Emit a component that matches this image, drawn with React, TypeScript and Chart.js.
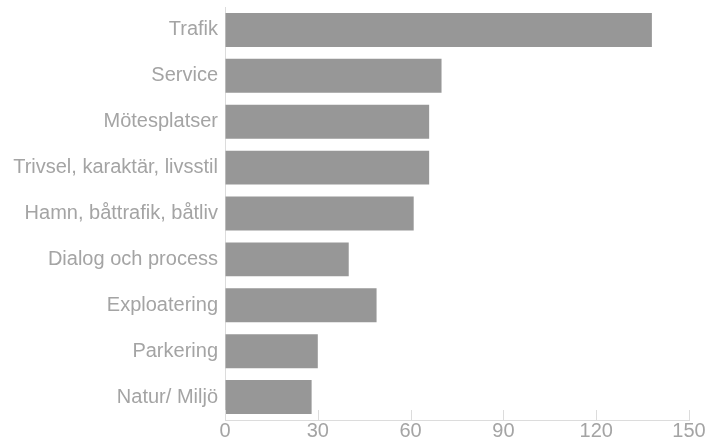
import React, { useEffect, useRef } from "react";
import { Chart, registerables } from "chart.js";

Chart.register(...registerables);

const categories = [
  "Trafik",
  "Service",
  "Mötesplatser",
  "Trivsel, karaktär, livsstil",
  "Hamn, båttrafik, båtliv",
  "Dialog och process",
  "Exploatering",
  "Parkering",
  "Natur/ Miljö",
];
const values = [138, 70, 66, 66, 61, 40, 49, 30, 28];
const xTicks = [0, 30, 60, 90, 120, 150];

const innerTicks = {
  id: "innerTicks",
  afterDraw(chart: any) {
    const x = chart.scales.x;
    const ctx = chart.ctx;
    const bottom = chart.chartArea.bottom;
    ctx.save();
    ctx.strokeStyle = "#dcdcdc";
    ctx.lineWidth = 1;
    for (const t of xTicks) {
      const px = Math.round(x.getPixelForValue(t)) + 0.5;
      ctx.beginPath();
      ctx.moveTo(px, bottom);
      ctx.lineTo(px, bottom - 10);
      ctx.stroke();
    }
    ctx.restore();
  },
};

export default function App() {
  const ref = useRef<HTMLCanvasElement>(null);
  useEffect(() => {
    document.body.style.margin = "0";
    const chart = new Chart(ref.current!, {
      type: "bar",
      data: {
        labels: categories,
        datasets: [
          {
            data: values,
            backgroundColor: "#979797",
            borderWidth: 0,
            barPercentage: 0.74,
            categoryPercentage: 1,
          },
        ],
      },
      plugins: [innerTicks],
      options: {
        indexAxis: "y",
        animation: false,
        responsive: false,
        maintainAspectRatio: false,
        layout: { padding: { top: 7, right: 0, left: 0, bottom: 1 } },
        plugins: { legend: { display: false }, tooltip: { enabled: false } },
        scales: {
          x: {
            min: 0,
            max: 150,
            afterBuildTicks: (s: any) => {
              s.ticks = xTicks.map((v) => ({ value: v }));
            },
            afterFit: (s: any) => {
              s.paddingRight = 19;
              s.paddingLeft = 0;
            },
            grid: { display: true, drawOnChartArea: false, drawTicks: false },
            border: { display: true, color: "#dcdcdc", width: 1 },
            ticks: {
              color: "#a4a4a4",
              padding: 0,
              font: { family: "Liberation Sans, Arial, sans-serif", size: 20, lineHeight: 1.1 },
            },
          },
          y: {
            afterFit: (s: any) => {
              s.width = 225;
              s.paddingTop = 0;
              s.paddingBottom = 0;
            },
            grid: { display: false, drawTicks: false },
            border: { display: true, color: "#dcdcdc", width: 1 },
            ticks: {
              color: "#a4a4a4",
              padding: 7,
              font: { family: "Liberation Sans, Arial, sans-serif", size: 20 },
            },
          },
        },
      },
    });
    return () => chart.destroy();
  }, []);
  return (
    <div style={{ width: 708, height: 443 }}>
      <canvas ref={ref} width={708} height={443} style={{ width: 708, height: 443, display: "block" }} />
    </div>
  );
}
